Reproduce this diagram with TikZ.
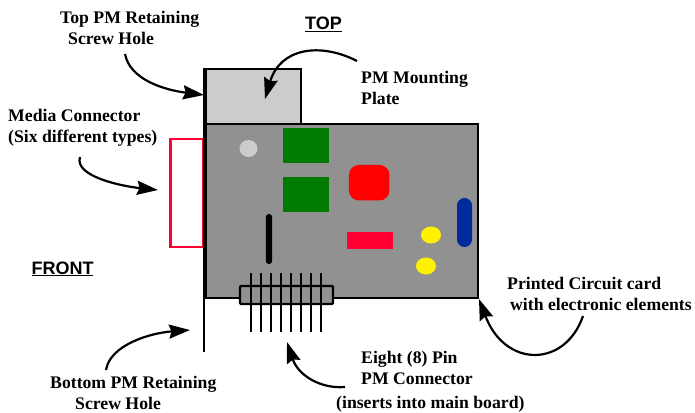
\documentclass[tikz,border=0pt]{standalone}
\usepackage{fontspec}
\setmainfont{Liberation Serif}
\setsansfont{Liberation Sans}
\usetikzlibrary{arrows.meta,shapes.geometric}
\definecolor{plategray}{HTML}{CCCCCC}
\definecolor{cardgray}{HTML}{919191}
\definecolor{chipgreen}{HTML}{007A00}
\definecolor{pinkred}{HTML}{FF0033}
\definecolor{chipblue}{HTML}{002A9E}
\tikzset{
  lbl/.style={font=\fontsize{17.7}{21}\selectfont\bfseries, align=left, anchor=north west, inner sep=0pt, text=black},
  hdr/.style={font=\fontsize{18}{20}\selectfont\sffamily\bfseries, inner sep=0pt, anchor=base},
  callout/.style={line width=2.2pt, -{Stealth[length=21pt,width=14pt,inset=2.5pt]}},
  chip/.style={minimum width=46pt, minimum height=35pt, fill=chipgreen, inner sep=0pt},
  pinline/.style={line width=2pt, black},
  blob/.style={ellipse, inner sep=0pt, minimum width=20pt, minimum height=17pt, fill=yellow}
}
\begin{document}
\begin{tikzpicture}[x=1pt,y=-1pt]
\useasboundingbox (0,0) rectangle (695,412);
% plate and card
\node[draw=black, line width=2.4pt, fill=plategray, minimum width=96pt, minimum height=55pt, inner sep=0pt] (plate) at (253,96.5) {};
\node[draw=black, line width=2.4pt, fill=cardgray, minimum width=273pt, minimum height=174pt, inner sep=0pt] (card) at (341.5,211) {};
% media connector
\node[draw=pinkred, line width=2.2pt, fill=white, minimum width=33pt, minimum height=108pt, inner sep=0pt] (media) at (187,193) {};
% bracket
\coordinate (brtop) at (205,68);
\coordinate (brmid) at (205,298);
\coordinate (brsplit) at (204,297);
\coordinate (brbot) at (204,352);
\draw[line width=4pt] (brtop) -- (brmid);
\draw[line width=2.2pt] (brsplit) -- (brbot);
% components
\node[blob, fill=plategray, minimum width=18pt] (led) at (248.5,148.5) {};
\node[chip] (chipa) at (306,145.5) {};
\node[chip] (chipb) at (306,194.5) {};
\node[fill=red, rounded corners=10pt, minimum width=40.5pt, minimum height=35.5pt, inner sep=0pt] (cpu) at (369.2,182.7) {};
\node[fill=pinkred, minimum width=46pt, minimum height=17pt, inner sep=0pt] (res) at (370,240.5) {};
\node[blob] (capa) at (431,235) {};
\node[blob] (capb) at (426,266) {};
\node[fill=chipblue, rounded corners=7.4pt, minimum width=15pt, minimum height=49pt, inner sep=0pt] (cap) at (464.5,222.5) {};
\node[fill=black, rounded corners=3pt, minimum width=6.4pt, minimum height=50pt, inner sep=0pt] (bar) at (269,239) {};
% PM connector
\node[draw=black, line width=2.2pt, fill=cardgray, rounded corners=1pt, minimum width=93pt, minimum height=18pt, inner sep=0pt] (pmconn) at (286.5,295) {};
\foreach \i/\x in {1/250.5,2/260.5,3/270.5,4/280.5,5/290.5,6/300.5,7/310.5,8/320.5}{
  \coordinate (pt\i) at (\x,273);
  \coordinate (pb\i) at (\x,332);
  \draw[pinline] (pt\i) -- (pb\i);
}
% labels
\node[lbl] (ltop) at (60,11) {Top PM Retaining\\\hspace*{8pt}Screw Hole};
\node[lbl] (lmedia) at (8,109) {Media Connector\\(Six different types)};
\node[lbl] (lmount) at (361,71) {PM Mounting\\Plate};
\node[lbl] (lcard) at (507,277) {Printed Circuit card\\\hspace*{3pt}with electronic elements};
\node[lbl] (lbot) at (50,376.5) {Bottom PM Retaining\\\hspace*{25pt}Screw Hole};
\node[lbl] (lpin) at (361,351) {Eight (8) Pin\\PM Connector};
\node[lbl] (lins) at (336,396) {(inserts into main board)};
\node[hdr] (htop) at (323.5,30) {\underline{TOP}};
\node[hdr] (hfront) at (62.5,274) {\underline{FRONT}};
% callouts
\coordinate (a1s) at (125,54);  \coordinate (a1e) at (204,95);
\coordinate (a2s) at (357,61);  \coordinate (a2e) at (265,99);
\coordinate (a3s) at (80,157);  \coordinate (a3e) at (158,190);
\coordinate (a4s) at (106,370); \coordinate (a4e) at (190,330);
\coordinate (a5s) at (345,387); \coordinate (a5e) at (287,342);
\coordinate (a6s) at (583,316); \coordinate (a6e) at (479,299);
\draw[callout] (a1s) .. controls (130,80) and (165,90) .. (a1e);
\draw[callout] (a2s) .. controls (320,42) and (280,48) .. (a2e);
\draw[callout] (a3s) .. controls (74,176) and (120,186) .. (a3e);
\draw[callout] (a4s) .. controls (110,345) and (150,333) .. (a4e);
\draw[callout] (a5s) .. controls (320,389) and (298,375) .. (a5e);
\draw[callout] (a6s) .. controls (565,368) and (505,368) .. (a6e);
\end{tikzpicture}
\end{document}
